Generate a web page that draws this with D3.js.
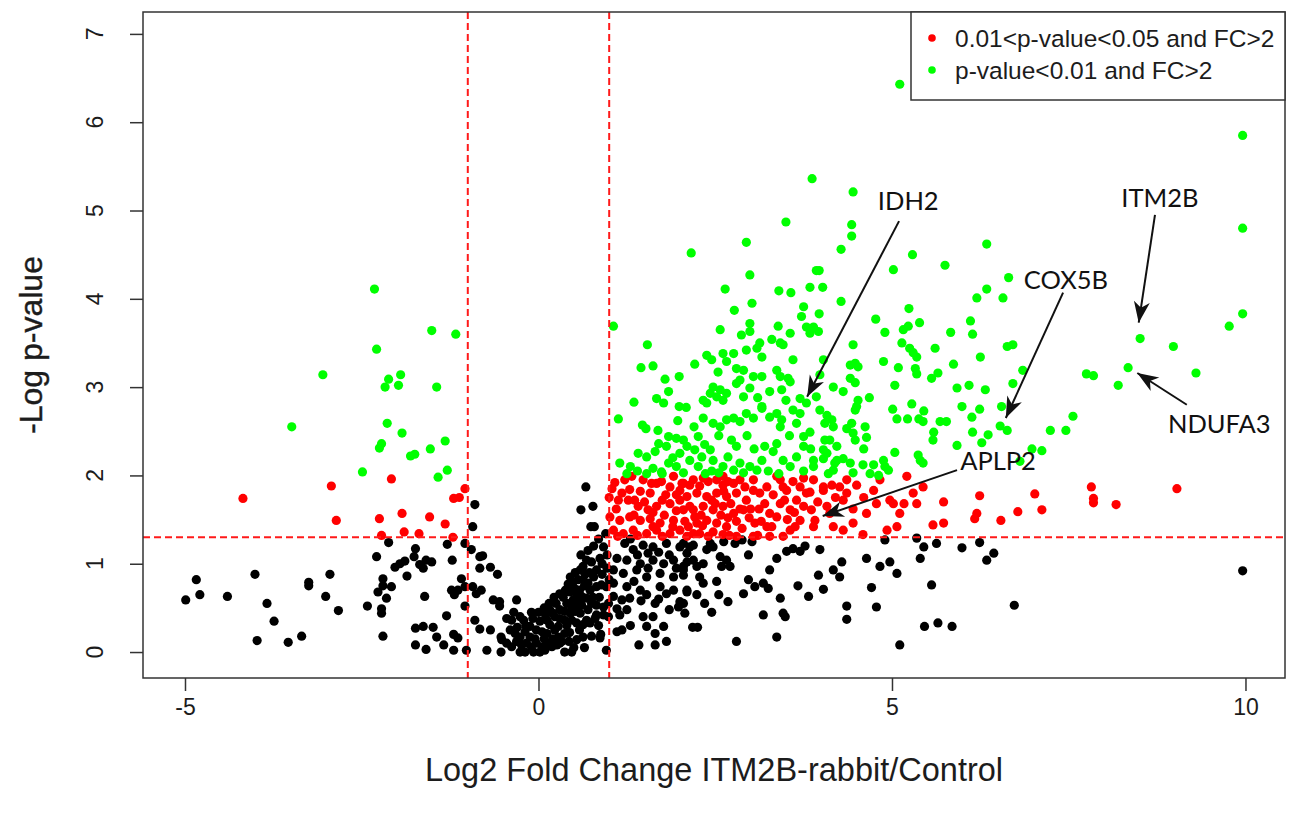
<!DOCTYPE html>
<html><head><meta charset="utf-8">
<script src="https://cdn.jsdelivr.net/npm/d3@7"></script>
<style>body{margin:0;background:#fff}svg{display:block}</style>
</head><body><svg id="c" width="1294" height="813"></svg>
<script>
// ---------- DATA ----------
const blackPoints = [
[-4.99,0.59],[-4.84,0.82],[-4.79,0.65],[-4.40,0.63],[-4.01,0.88],[-3.98,0.13],[-3.84,0.55],[-3.74,0.35],[-3.54,0.11],[-3.35,0.18],[-3.25,0.79],[-3.25,0.75],[-3.01,0.63],[-2.95,0.88],[-2.83,0.47],[-2.42,0.52],[-2.29,1.08],[-2.27,0.68],[-2.22,0.49],[-2.22,0.44],[-2.20,0.83],[-2.20,0.75],[-2.20,0.18],[-2.15,0.61],[-2.12,1.24],[-2.08,0.74],[-2.03,0.96],[-1.96,1.00],[-1.89,1.03],[-1.86,0.86],[-1.76,1.08],[-1.74,1.17],[-1.74,0.27],[-1.74,0.08],[-1.68,0.99],[-1.63,0.95],[-1.63,0.29],[-1.61,0.63],[-1.59,1.04],[-1.59,0.03],[-1.51,1.02],[-1.49,0.28],[-1.44,0.17],[-1.34,0.08],
[-1.30,0.41],[-1.29,1.22],[-1.23,0.70],[-1.22,1.04],[-1.20,0.20],[-1.20,0.02],[-1.19,0.65],[-1.14,0.70],[-1.14,0.16],[-1.09,0.83],[-1.04,1.23],[-1.04,0.74],[-1.04,0.52],[-1.02,0.02],[-0.95,1.16],[-0.93,1.42],[-0.93,0.74],[-0.90,1.67],[-0.90,0.36],[-0.88,0.66],[-0.83,1.08],[-0.83,0.95],[-0.83,0.26],[-0.81,0.70],[-0.79,1.09],[-0.73,0.02],[-0.68,0.96],[-0.68,0.25],[-0.64,0.59],[-0.58,0.88],[-0.55,0.57],[-0.55,0.52],[-0.53,0.17],[-0.53,0.00],[-0.45,0.38],[-0.31,0.59],
[-0.52,0.14],[-0.45,0.10],[-0.40,0.25],[-0.38,0.36],[-0.38,0.06],[-0.33,0.21],[-0.31,0.12],[-0.26,0.40],[-0.26,0.17],[-0.26,0.00],[-0.24,0.08],[-0.21,0.36],[-0.19,0.23],[-0.19,0.00],[-0.17,0.10],[-0.12,0.29],[-0.12,0.17],[-0.10,0.06],[-0.07,0.00],[-0.03,0.25],[-0.03,0.10],[0.02,0.00],[0.05,0.23],[0.05,0.06],[0.09,0.02],[0.12,0.36],[0.12,0.21],[0.12,0.10],[0.16,0.48],[0.16,0.31],[0.19,0.06],[0.23,0.40],[0.23,0.25],[0.28,0.29],[0.28,0.17],[0.30,0.48],[0.30,0.38],[0.30,0.10],[0.37,0.46],[0.37,0.36],[0.37,0.21],[0.37,0.00],[0.40,0.55],[0.42,0.77],[0.45,0.44],[0.47,0.51],[0.47,0.36],[0.47,0.00],[0.49,0.59],[0.52,0.46],[0.54,0.65],[0.54,0.53],[0.54,0.33],[0.54,0.14],[0.56,0.82],[0.59,0.93],[0.59,0.44],[0.60,1.61],[0.61,0.63],[0.61,0.53],[0.63,0.97],[0.63,0.82],[0.63,0.31],[0.63,0.17],[0.67,1.87],[0.68,1.04],[0.68,0.61],[0.68,0.36],[0.70,0.78],[0.73,0.70],[0.73,0.33],[0.74,1.42],[0.75,1.02],[0.75,0.55],[0.77,1.65],[0.78,0.85],[0.79,1.42],[0.80,0.38],[0.82,0.93],[0.82,0.74],[0.82,0.53],[0.82,0.42],[0.87,1.06],[0.87,0.16],[0.89,0.76],[0.92,1.19],[0.92,0.51],[0.92,0.42],[0.95,1.34],[0.96,0.74],[0.96,0.02],[0.99,0.55],[0.99,0.40],
[0.35,0.62],[0.44,0.68],[0.51,0.72],[0.58,0.70],[0.66,0.88],[0.72,0.90],[0.86,0.62],[0.90,0.88],[0.25,0.55],[0.20,0.44],[0.10,0.42],[0.02,0.35],[-0.08,0.38],[0.40,0.30],[0.44,0.22],[0.33,0.12],[0.26,0.08],[0.43,0.12],[0.58,0.25],[0.70,0.48],[0.77,0.62],[0.85,0.30],[0.50,0.05],[0.20,0.15],[-0.05,0.15],[0.08,0.15],
[0.45,0.85],[0.52,0.90],[0.60,1.10],[0.70,1.15],[0.78,1.20],[0.85,1.28],[0.90,1.00],[0.97,0.95],[0.97,1.10],[0.65,0.75],[0.48,0.78],[0.38,0.70],[0.30,0.66],[0.22,0.62],[0.15,0.55],[0.08,0.50],[0.00,0.45],[-0.10,0.45],[-0.18,0.30],[-0.30,0.28],[-0.35,0.45],[0.58,0.58],[0.88,0.20],[0.75,0.18],[0.65,0.05],
[1.06,0.93],[1.06,0.78],[1.06,0.63],[1.11,1.06],[1.11,0.49],[1.11,0.23],[1.15,0.42],[1.18,0.59],[1.18,0.25],[1.20,0.89],[1.22,1.23],[1.25,1.04],[1.25,0.74],[1.25,0.48],[1.29,0.61],[1.34,1.16],[1.39,0.93],[1.42,0.08],[1.44,1.00],[1.44,0.70],[1.48,1.21],[1.48,0.40],[1.53,0.85],[1.53,0.65],[1.53,0.29],[1.62,1.19],[1.62,1.04],[1.62,0.40],[1.65,0.21],[1.65,0.08],[1.72,0.89],[1.72,0.74],[1.77,1.00],[1.77,0.29],[1.81,1.23],[1.81,0.66],[1.81,0.12],[1.91,1.04],[1.91,0.85],[1.91,0.70],[1.98,0.51],[2.00,1.19],[2.00,0.57],[2.05,0.93],[2.07,0.44],[2.10,1.02],[2.10,0.70],[2.19,1.21],[2.18,0.28],[2.25,0.28],[2.24,0.65],
[1.00,0.82],[1.30,1.28],[1.40,1.10],[1.55,1.12],[1.70,1.13],[1.85,1.10],[1.95,0.95],[1.55,0.95],[1.35,0.80],[1.45,0.58],[1.65,0.55],[1.85,0.48],[1.70,0.60],[1.30,0.30],[2.35,0.55],[2.45,0.45],[2.55,0.65],[2.62,1.25],[2.88,1.27],
[2.05,1.23],[2.14,1.19],[2.10,1.12],[2.19,1.04],[2.05,0.97],[2.24,0.97],[2.33,1.00],[2.28,0.85],[2.33,0.78],[2.05,0.87],[2.10,0.68],[2.05,0.55],[2.43,1.23],[2.38,1.16],[2.47,1.19],[2.57,1.08],[2.66,1.04],[2.59,0.97],[2.71,0.97],[2.52,0.80],[2.78,1.23],[2.97,1.10],[3.02,1.25],[2.97,0.82],[3.06,0.74],[2.90,0.66],[2.68,0.57],[3.18,0.78],[3.25,0.72],[3.27,0.93],[3.37,1.06],[3.51,1.14],[3.60,1.17],[3.70,1.14],[3.77,1.20],[3.98,1.16],[3.42,0.61],[3.18,0.42],[3.46,0.44],[3.49,0.40],[3.67,0.75],[3.82,0.63],[3.96,0.87],[4.03,0.71],[4.17,0.93],[4.26,0.85],[4.29,1.02],[4.36,0.52],[4.36,0.37],[4.64,1.06],[4.71,0.73],[4.78,0.51],[4.83,0.97],[4.97,1.02],[5.07,0.89],[4.90,1.27],[5.11,0.08],[2.80,0.12],[3.37,0.17],[5.35,1.29],[5.40,1.06],[5.56,0.76],[5.63,1.23],[5.46,0.29],[5.65,0.33],
[5.45,1.19],[5.99,1.18],[6.24,1.24],[6.44,1.12],[6.34,1.04],[6.73,0.53],[5.85,0.29],[9.96,0.92]
];
const redPoints = [
[-4.18,1.74],[-2.93,1.88],[-2.86,1.49],[-2.25,1.51],[-2.22,1.32],[-2.08,1.96],[-1.93,1.57],[-1.90,1.36],[-1.69,1.34],[-1.54,1.53],[-1.32,1.45],[-1.21,1.30],[-1.20,1.74],[-1.12,1.75],[-1.04,1.85],
[1.04,1.85],[1.13,1.72],[1.29,1.84],[1.44,1.82],[1.58,1.80],[1.67,1.91],[1.86,1.87],[2.00,1.83],[2.14,1.89],[1.27,1.72],[1.41,1.65],[1.55,1.61],[1.67,1.65],[1.86,1.68],[2.00,1.72],[2.14,1.65],[1.01,1.53],[1.15,1.49],[1.29,1.53],[1.44,1.49],[1.58,1.51],[1.72,1.46],[1.91,1.49],[2.07,1.48],[2.21,1.53],[1.06,1.38],[1.20,1.34],[1.34,1.38],[1.53,1.34],[1.67,1.38],[1.86,1.34],[2.00,1.38],[2.19,1.34],
[1.32,1.99],[1.60,1.91],[1.74,1.93],[1.91,1.99],[2.03,1.91],[2.19,1.95],[2.40,1.93],[2.52,1.95],[2.61,1.89],[2.68,1.93],[2.85,1.95],[2.92,1.87],[3.04,1.95],[3.23,1.87],[3.37,1.99],[3.46,1.87],[3.60,1.93],[3.70,1.87],[3.84,1.81],[3.89,1.95],[4.03,1.87],[4.15,1.89],
[2.05,1.91],[2.33,1.97],[2.61,1.99],[2.76,1.91],[3.04,1.83],[2.10,1.76],[2.24,1.80],[2.38,1.76],[2.52,1.80],[2.66,1.76],[2.80,1.80],[2.94,1.72],[2.05,1.61],[2.19,1.61],[2.33,1.65],[2.47,1.61],[2.61,1.65],[2.76,1.57],[2.90,1.61],[2.24,1.46],[2.38,1.49],[2.52,1.46],[2.66,1.42],[2.80,1.48],[3.06,1.46],[2.28,1.34],[2.47,1.36],[2.61,1.33],[2.80,1.31],[3.04,1.31],
[3.13,1.80],[3.20,1.68],[3.27,1.57],[3.23,1.42],[3.37,1.53],[3.42,1.68],[3.42,1.95],[3.51,1.83],[3.56,1.61],[3.65,1.72],[3.70,1.49],[3.63,1.42],[3.75,1.65],[3.79,1.80],[3.86,1.61],[3.91,1.49],[4.03,1.83],[3.89,1.42],[3.46,1.31],[3.56,1.38],[3.27,1.31],[3.75,1.97],[4.26,1.87],[4.31,1.72],[4.36,1.95],[4.17,1.42],[4.31,1.38],[4.36,1.80],[4.50,1.89],[4.74,1.83],[4.78,1.68],[4.64,1.57],[4.45,1.46],[4.59,1.33],[4.83,1.95],[4.97,1.72],[5.11,1.57],[5.21,1.99],[5.30,1.80],[5.35,1.68],[5.44,1.87],[4.93,1.38],[5.07,1.42],[5.02,1.68],[5.58,1.44],[4.12,1.57],[4.08,1.65],
[5.17,1.68],[5.73,1.70],[5.73,1.46],[6.17,1.51],[6.20,1.57],[6.54,1.49],[6.78,1.59],[7.12,1.61],[7.85,1.69],[8.17,1.67],[7.82,1.87],[7.85,1.74],[9.03,1.85],[7.02,1.79],[6.24,1.77],
[1.10,1.62],[1.22,1.95],[1.36,1.72],[1.50,1.70],[1.62,1.42],[1.78,1.55],[1.80,1.78],[1.95,1.60],[2.30,1.55],[2.45,1.72],[2.58,1.55],[2.72,1.68],[2.88,1.40],[2.98,1.52],[3.12,1.62],[3.32,1.78],[3.52,1.50],[1.40,1.32],[2.40,1.31],[1.95,1.78],[2.62,1.82],[2.28,1.88],
[1.00,1.75],[1.08,1.92],[1.18,1.80],[1.35,1.55],[1.48,1.95],[1.62,1.58],[1.75,1.72],[1.90,1.42],[2.12,1.42],[2.32,1.43],[2.50,1.68],[2.68,1.52],[2.85,1.62],[3.00,1.62],[3.15,1.48],[3.30,1.42],[3.48,1.72],[3.62,1.58],[3.95,1.70],[4.20,1.75],[4.45,1.62],[4.60,1.75],[1.12,1.31],[1.75,1.31],[2.10,1.31],[2.70,1.32],[3.10,1.32]
];
const greenPoints = [
[-3.49,2.55],[-3.05,3.14],[-2.49,2.04],[-2.32,4.11],[-2.29,3.43],[-2.25,2.31],[-2.22,2.36],[-2.17,3.00],[-2.14,2.59],[-2.12,3.09],[-1.98,3.02],[-1.95,3.14],[-1.93,2.48],[-1.81,2.22],[-1.75,2.24],[-1.53,2.30],[-1.51,3.64],[-1.44,3.00],[-1.42,1.98],[-1.32,2.39],[-1.29,2.06],[-1.17,3.60],
[1.06,3.69],[1.54,3.48],[1.45,3.22],[1.62,3.24],[1.79,3.09],[1.99,3.12],[1.84,2.95],[1.67,2.87],[1.77,2.82],[1.35,2.83],[1.99,2.78],[2.09,2.77],[1.13,2.64],[1.47,2.57],[1.52,2.53],[1.69,2.51],[1.15,2.14],[1.41,2.25],[1.53,2.21],[1.65,2.27],[1.81,2.33],[1.84,2.44],[1.95,2.42],[2.05,2.40],[1.53,2.02],[1.62,2.08],[1.74,2.04],[1.84,2.14],[1.95,2.10],[2.00,2.25],[2.10,2.33],[2.14,2.17],[2.26,2.44],[2.21,2.29],[2.26,2.10],[2.36,2.02],[2.31,2.21],[2.43,2.29],[2.47,2.17],[2.61,2.10],[2.68,2.21],[2.76,2.06],[2.85,2.14],[2.80,2.33],[2.73,2.40],[2.99,2.10],[3.09,2.06],[3.16,2.17],[3.20,2.33],[3.32,2.27],[3.37,2.36],[3.46,2.17],[3.56,2.10],[3.65,2.21],[3.75,2.33],[3.89,2.17],[3.89,2.10],[4.03,2.29],[4.12,2.40],[4.22,2.17],[4.17,2.06],
[2.33,2.65],[2.47,2.59],[2.57,2.55],[2.66,2.63],[2.76,2.65],[2.85,2.61],[2.94,2.70],[3.04,2.65],[3.16,2.76],[3.27,2.66],[3.37,2.70],[3.44,2.63],[3.42,2.55],[3.60,2.74],[3.70,2.70],[3.65,2.59],[3.75,2.44],[3.84,2.49],
[2.21,3.26],[2.38,3.36],[2.45,3.31],[2.61,3.38],[2.54,3.17],[2.66,3.29],[2.76,3.38],[2.80,3.21],[2.90,3.19],[2.57,3.65],[2.77,3.87],[3.02,3.95],[2.87,3.59],[2.99,3.72],[2.99,3.63],[2.94,3.42],[3.13,3.50],[3.09,3.44],[3.16,3.34],[3.30,3.54],[3.39,3.69],[3.42,3.50],[3.46,3.48],[3.56,3.61],[3.60,3.31],[3.75,3.91],[3.72,3.80],[3.97,3.83],[3.79,3.68],[3.84,3.61],[3.89,3.68],[3.96,3.63],[4.03,3.31],[3.37,3.19],[3.42,3.12],[3.53,3.10],[3.56,3.06],[3.44,2.97],[3.16,3.12],[3.04,3.12],[2.85,3.08],[2.80,3.04],[2.90,2.89],[2.99,2.99],[2.47,3.00],[2.57,2.97],[2.52,2.89],[2.61,2.85],[2.66,2.93],[2.43,2.93],[2.38,2.82],[2.33,2.85],[3.70,2.87],[3.79,2.82],[3.93,2.89],[3.27,2.95],[3.16,2.78],
[3.87,5.36],[4.45,5.21],[3.50,4.87],[4.43,4.84],[4.43,4.71],[2.94,4.64],[2.16,4.52],[4.28,4.56],[3.93,4.32],[3.97,4.32],[2.99,4.27],[2.64,4.11],[3.40,4.09],[3.57,4.07],[3.84,4.13],[4.02,4.13],[4.28,3.97],
[5.11,6.43],[5.29,4.50],[5.02,4.33],[5.75,4.38],[6.34,4.62],[6.65,4.24],[6.34,4.11],[6.20,4.01],[6.57,4.01],
[5.24,3.89],[4.77,3.77],[4.90,3.62],[5.16,3.65],[5.23,3.69],[5.39,3.73],[5.14,3.50],[5.25,3.44],[5.30,3.39],[5.35,3.34],[5.61,3.44],[5.83,3.62],[4.45,3.48],[4.88,3.29],[5.09,3.22],[5.33,3.21],[5.35,3.15],[4.41,3.25],[4.48,3.27],[4.52,3.23],[4.41,3.10],[4.48,3.05],[4.17,3.00],[4.31,2.95],[3.98,3.14],[5.04,3.02],[4.68,2.88],[4.52,2.85],[4.50,2.78],[4.48,2.74],[5.01,2.75],[5.28,2.81],[5.45,2.73],[5.07,2.64],[5.22,2.64],[5.38,2.64],[5.44,2.61],[3.98,2.74],[4.08,2.68],[4.15,2.63],[4.05,2.59],[4.17,2.55],[4.36,2.53],[4.43,2.59],[4.45,2.48],[4.62,2.55],[4.64,2.43],[4.48,2.40],[4.05,2.40],[4.22,2.33],[4.08,2.25],[4.03,2.19],[4.19,2.14],[4.31,2.19],[4.41,2.14],[4.59,2.12],[4.74,2.12],[4.69,2.02],[4.81,2.00],[4.88,2.17],[4.90,2.10],[4.95,2.06],[5.04,2.26],[5.37,2.23],[5.40,2.17],[5.44,2.14],
[9.96,3.83],[9.77,3.69],[8.98,3.46],[8.51,3.55],[8.34,3.22],[8.20,3.02],[9.30,3.16],[7.75,3.15],[7.85,3.13],[7.56,2.67],[7.46,2.51],[7.24,2.51],[7.12,2.28],[6.98,2.30],[6.81,2.16],[6.85,3.19],[6.71,3.04],[6.55,2.78],[6.53,2.56],[6.63,2.51],[6.36,2.46],[6.27,2.37],[6.14,2.49],[5.92,2.34],[6.25,3.34],[6.11,3.75],[6.14,3.60],[5.87,3.26],[6.63,3.46],[6.71,3.48],[5.65,3.16],[5.56,3.10],[5.92,2.99],[6.09,3.02],[6.32,2.97],[5.99,2.78],[6.13,2.66],[6.24,2.75],[5.68,2.61],[5.77,2.61],[5.59,2.49],[5.58,2.40],
[9.96,5.85],[9.96,4.80],
[1.30,2.10],[1.70,2.36],[1.90,2.20],[2.35,2.35],[2.55,2.45],[2.95,2.45],[3.05,2.30],[3.55,2.45],[3.25,2.05],[2.55,2.03],[1.97,2.62],[2.20,2.55],[3.10,2.88],[3.50,2.85],[4.60,2.30],[3.85,2.30],
[1.25,2.02],[1.40,2.05],[1.75,2.02],[2.05,2.03],[2.45,2.05],[2.90,2.03],[3.40,2.02],[3.75,2.05],[4.10,2.02],[4.45,2.03]
];
const xTicks = [-5, 0, 5, 10];
const yTicks = [0, 1, 2, 3, 4, 5, 6, 7];
const cutoffX = [-1, 1];
const cutoffY = [1.301];
const legendLabels = ["0.01<p-value<0.05 and FC>2", "p-value<0.01 and FC>2"];
const legendColors = ["#ff0000", "#00ff00"];
const annotLabels = ["IDH2", "COX5B", "ITM2B", "NDUFA3", "APLP2"];
const annotText = [[5.23,5.11],[7.46,4.22],[8.79,5.14],[9.63,2.59],[6.50,2.17]];
const annotFrom = [[5.10,4.88],[7.42,4.07],[8.72,4.95],[9.17,2.80],[5.92,2.06]];
const annotTo = [[3.80,2.89],[6.61,2.65],[8.49,3.73],[8.47,3.16],[4.02,1.54]];

// ---------- LAYOUT ----------
const L = 143, R = 1285, T = 12, B = 678;
const x = d3.scaleLinear().domain([-5.594, 10.559]).range([L, R]);
const y = d3.scaleLinear().domain([-0.294, 7.248]).range([B, T]);
const svg = d3.select("#c");
const font = "'Liberation Sans', Arial, sans-serif";
const ink = "#1c1c1c";

svg.append("rect").attr("width",1294).attr("height",813).attr("fill","#fff");

// points
function dots(data, color){
  svg.append("g").selectAll("circle").data(data).join("circle")
    .attr("cx", d => x(d[0])).attr("cy", d => y(d[1])).attr("r", 4.6).attr("fill", color);
}
dots(blackPoints, "#000");
dots(redPoints, "#ff0000");
dots(greenPoints, "#00ff00");

// cutoff lines
const cut = svg.append("g").attr("stroke","#ff1a1a").attr("stroke-width",2).attr("stroke-dasharray","7,4");
cutoffX.forEach(v => cut.append("line").attr("x1",x(v)).attr("x2",x(v)).attr("y1",T).attr("y2",B));
cutoffY.forEach(v => cut.append("line").attr("x1",L).attr("x2",R).attr("y1",y(v)).attr("y2",y(v)));

// frame
svg.append("rect").attr("x",L).attr("y",T).attr("width",R-L).attr("height",B-T)
  .attr("fill","none").attr("stroke","#333").attr("stroke-width",1.5);

// x axis
const xa = svg.append("g").attr("transform",`translate(0,${B})`)
  .call(d3.axisBottom(x).tickValues(xTicks).tickSize(13).tickPadding(8).tickFormat(d => String(d)));
xa.select(".domain").remove();
xa.selectAll("line").attr("stroke","#333").attr("stroke-width",1.5);
xa.selectAll("text").attr("font-family",font).attr("font-size",23).attr("fill",ink);

// y axis (labels parallel to axis, as in R)
const ya = svg.append("g").attr("transform",`translate(${L},0)`)
  .call(d3.axisLeft(y).tickValues(yTicks).tickSize(13).tickFormat(""));
ya.select(".domain").remove();
ya.selectAll("line").attr("stroke","#333").attr("stroke-width",1.5);
svg.append("g").selectAll("text").data(yTicks).join("text")
  .attr("transform", d => `translate(103,${y(d)}) rotate(-90)`)
  .attr("text-anchor","middle").attr("font-family",font).attr("font-size",23).attr("fill",ink)
  .text(d => String(d));

// axis titles
svg.append("text").attr("x",(L+R)/2).attr("y",781).attr("text-anchor","middle")
  .attr("font-family",font).attr("font-size",32.5).attr("fill",ink)
  .text("Log2 Fold Change ITM2B-rabbit/Control");
svg.append("text").attr("transform",`translate(42,${(T+B)/2}) rotate(-90)`).attr("text-anchor","middle")
  .attr("font-family",font).attr("font-size",32).attr("fill",ink).attr("stroke",ink).attr("stroke-width",0.4)
  .text("-Log p-value");

// legend
const lg = svg.append("g");
lg.append("rect").attr("x",911).attr("y",T).attr("width",R-911).attr("height",88)
  .attr("fill","#fff").attr("stroke","#333").attr("stroke-width",1.5);
legendLabels.forEach((t,i) => {
  lg.append("circle").attr("cx",932).attr("cy",38+i*32).attr("r",3.8).attr("fill",legendColors[i]);
  lg.append("text").attr("x",955).attr("y",38+i*32).attr("dy","0.36em")
    .attr("font-family",font).attr("font-size",24.5).attr("fill",ink).text(t);
});

// annotations
const defs = svg.append("defs");
defs.append("marker").attr("id","ah").attr("viewBox","-22 -9 24 18").attr("refX",0).attr("refY",0)
  .attr("markerWidth",24).attr("markerHeight",18).attr("markerUnits","userSpaceOnUse").attr("orient","auto")
  .append("path").attr("d","M0,0 L-21,-8 L-15,0 L-21,8 Z").attr("fill","#111");
annotLabels.forEach((t,i) => {
  svg.append("line").attr("x1",x(annotFrom[i][0])).attr("y1",y(annotFrom[i][1]))
    .attr("x2",x(annotTo[i][0])).attr("y2",y(annotTo[i][1]))
    .attr("stroke","#111").attr("stroke-width",2).attr("marker-end","url(#ah)");
  svg.append("text").attr("x",x(annotText[i][0])).attr("y",y(annotText[i][1])).attr("dy","0.36em")
    .attr("text-anchor","middle").attr("font-family","Lato, 'Open Sans', sans-serif").attr("font-size",25.5)
    .attr("fill","#111").text(t);
});
</script></body></html>
